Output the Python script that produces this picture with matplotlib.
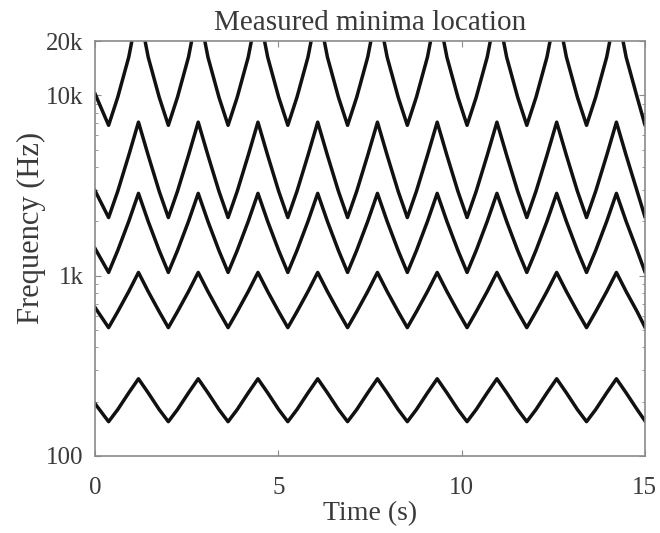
import matplotlib
matplotlib.use("Agg")
import matplotlib.pyplot as plt
from matplotlib.ticker import FixedLocator, FixedFormatter, NullFormatter, LogLocator

# time points (s): start, then per period min, rise, rise, peak, fall, fall, then end
time_s = [0.0,
          0.37, 0.62, 0.92, 1.185, 1.45, 1.75,
          2.00, 2.25, 2.55, 2.815, 3.08, 3.38,
          3.63, 3.88, 4.18, 4.445, 4.71, 5.01,
          5.26, 5.51, 5.81, 6.075, 6.34, 6.64,
          6.89, 7.14, 7.44, 7.705, 7.97, 8.27,
          8.52, 8.77, 9.07, 9.335, 9.60, 9.90,
          10.15, 10.40, 10.70, 10.965, 11.23, 11.53,
          11.78, 12.03, 12.33, 12.595, 12.86, 13.16,
          13.41, 13.66, 13.96, 14.225, 14.49, 14.79,
          15.0]

# minima frequencies (Hz), top curve first
min1 = [10200,
        6820, 9770, 16300, 30900, 16300, 9770,
        6820, 9770, 16300, 30900, 16300, 9770,
        6820, 9770, 16300, 30900, 16300, 9770,
        6820, 9770, 16300, 30900, 16300, 9770,
        6820, 9770, 16300, 30900, 16300, 9770,
        6820, 9770, 16300, 30900, 16300, 9770,
        6820, 9770, 16300, 30900, 16300, 9770,
        6820, 9770, 16300, 30900, 16300, 9770,
        6820, 9770, 16300, 30900, 16300, 9770,
        6900]
min2 = [2960,
        2100, 2940, 4650, 7100, 4650, 2940,
        2100, 2940, 4650, 7100, 4650, 2940,
        2100, 2940, 4650, 7100, 4650, 2940,
        2100, 2940, 4650, 7100, 4650, 2940,
        2100, 2940, 4650, 7100, 4650, 2940,
        2100, 2940, 4650, 7100, 4650, 2940,
        2100, 2940, 4650, 7100, 4650, 2940,
        2100, 2940, 4650, 7100, 4650, 2940,
        2100, 2940, 4650, 7100, 4650, 2940,
        2130]
min3 = [1415,
        1042, 1380, 2000, 2860, 2000, 1380,
        1042, 1380, 2000, 2860, 2000, 1380,
        1042, 1380, 2000, 2860, 2000, 1380,
        1042, 1380, 2000, 2860, 2000, 1380,
        1042, 1380, 2000, 2860, 2000, 1380,
        1042, 1380, 2000, 2860, 2000, 1380,
        1042, 1380, 2000, 2860, 2000, 1380,
        1042, 1380, 2000, 2860, 2000, 1380,
        1042, 1380, 2000, 2860, 2000, 1380,
        1055]
min4 = [666,
        515, 632, 817, 1042, 817, 632,
        515, 632, 817, 1042, 817, 632,
        515, 632, 817, 1042, 817, 632,
        515, 632, 817, 1042, 817, 632,
        515, 632, 817, 1042, 817, 632,
        515, 632, 817, 1042, 817, 632,
        515, 632, 817, 1042, 817, 632,
        515, 632, 817, 1042, 817, 632,
        515, 632, 817, 1042, 817, 632,
        520]
min5 = [195,
        155, 181, 224, 268, 224, 181,
        155, 181, 224, 268, 224, 181,
        155, 181, 224, 268, 224, 181,
        155, 181, 224, 268, 224, 181,
        155, 181, 224, 268, 224, 181,
        155, 181, 224, 268, 224, 181,
        155, 181, 224, 268, 224, 181,
        155, 181, 224, 268, 224, 181,
        155, 181, 224, 268, 224, 181,
        157]

ytick_vals = [100, 1000, 10000, 20000]
ytick_labels = ["100", "1k", "10k", "20k"]
xtick_vals = [0, 5, 10, 15]

plt.rcParams['font.family'] = ['Liberation Serif', 'DejaVu Serif']
txt = '#3a3a3a'
edge = '#8a8a8a'

fig = plt.figure(figsize=(6.6, 5.33), dpi=100)
ax = fig.add_axes([0.144, 0.1445, 0.833, 0.7785])

for series in (min1, min2, min3, min4, min5):
    ax.plot(time_s, series, color='#111111', lw=2.5, solid_joinstyle='round')

ax.set_yscale('log')
ax.set_xlim(0, 15)
ax.set_ylim(100, 20000)

ax.yaxis.set_major_locator(FixedLocator(ytick_vals))
ax.yaxis.set_major_formatter(FixedFormatter(ytick_labels))
ax.yaxis.set_minor_locator(LogLocator(base=10, subs=range(2, 10)))
ax.yaxis.set_minor_formatter(NullFormatter())
ax.set_xticks(xtick_vals)

for s in ax.spines.values():
    s.set_color(edge)
    s.set_linewidth(1.2)
ax.tick_params(which='both', direction='in', top=True, right=True, color=edge,
               labelcolor=txt, labelsize=18)
ax.tick_params(which='major', length=4)
ax.tick_params(which='minor', length=2)
ax.tick_params(axis='x', pad=15)
ax.tick_params(axis='y', pad=8.5)

ax.set_title('Measured minima location', fontsize=21, color=txt, pad=8)
ax.set_xlabel('Time (s)', fontsize=20, color=txt, labelpad=2)
ax.set_ylabel('Frequency (Hz)', fontsize=22, color=txt)
ax.yaxis.set_label_coords(-0.09, 0.549)

fig.savefig('out.png', dpi=100)
